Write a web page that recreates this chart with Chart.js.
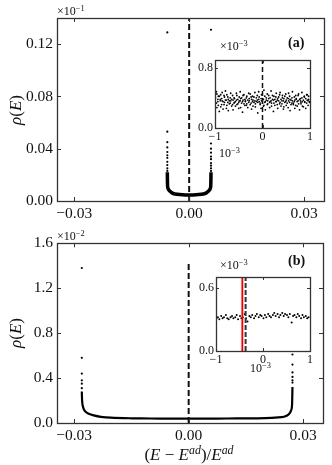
<!DOCTYPE html>
<html>
<head>
<meta charset="utf-8">
<script src="https://cdn.jsdelivr.net/npm/chart.js@4/dist/chart.umd.min.js"></script>
<style>
  html, body { margin: 0; padding: 0; background: #fff; }
  #fig { position: relative; width: 332px; height: 465px; overflow: hidden; font-family: "Liberation Serif", serif; color: #111; }
  canvas { position: absolute; }
  .txt { position: absolute; white-space: nowrap; line-height: 1; }
  .txt sup { font-size: 70%; vertical-align: 0.45em; line-height: 0; }
  .small { font-size: 12px; }
  .panel { font-size: 14px; font-weight: bold; }
  .ylab { font-size: 17px; transform: translate(-50%, -50%) rotate(-90deg); }
  .xlab { font-size: 17px; transform: translate(-50%, -50%); }
</style>
</head>
<body>
<div id="fig">
  <canvas id="topMain" width="332" height="230" style="left:0;top:0"></canvas>
  <canvas id="botMain" width="332" height="235" style="left:0;top:230px"></canvas>
  <canvas id="topInset" width="140" height="100" style="left:180px;top:50px"></canvas>
  <canvas id="botInset" width="140" height="100" style="left:180px;top:265px"></canvas>

  <div class="txt small" style="left:57px;top:5px">×10<sup>−1</sup></div>
  <div class="txt small" style="left:57px;top:230px">×10<sup>−2</sup></div>
  <div class="txt panel" style="left:288px;top:36px">(a)</div>
  <div class="txt panel" style="left:288px;top:254px">(b)</div>
  <div class="txt small" style="left:220px;top:40px">×10<sup>−3</sup></div>
  <div class="txt small" style="left:220px;top:259px">×10<sup>−3</sup></div>
  <div class="txt small" style="left:219px;top:147px">10<sup>−3</sup></div>
  <div class="txt small" style="left:250px;top:362px">10<sup>−3</sup></div>
  <div class="txt ylab" style="left:15px;top:110px"><i>ρ</i>(<i>E</i>)</div>
  <div class="txt ylab" style="left:15px;top:333px"><i>ρ</i>(<i>E</i>)</div>
  <div class="txt xlab" style="left:189px;top:454px">(<i>E</i> − <i>E</i><sup><i>ad</i></sup>)/<i>E</i><sup><i>ad</i></sup></div>
</div>

<script>
// --- DADOS: painel (a) ---
const mainXTicks = [-0.03, 0, 0.03];
const mainXTickLabels = ['−0.03', '0.00', '0.03'];

const topYTicks = [0, 0.04, 0.08, 0.12];
const topYTickLabels = ['0.00', '0.04', '0.08', '0.12'];

// curva densa em U
const topCurveX = [-0.0057, -0.00568, -0.00565, -0.0056, -0.0054, -0.0050, -0.0045, -0.0037, -0.0025, -0.0010, 0,
                   0.0010, 0.0025, 0.0037, 0.0045, 0.0050, 0.0054, 0.0056, 0.00565, 0.00568, 0.0057];
const topCurveY = [0.022, 0.017, 0.013, 0.0105, 0.0088, 0.0075, 0.0062, 0.0054, 0.0049, 0.0046, 0.0046,
                   0.0046, 0.0049, 0.0054, 0.0062, 0.0075, 0.0088, 0.0105, 0.013, 0.017, 0.022];
// pontos esparsos nas bordas
const topEdgeX = [-0.0057, -0.0057, -0.0057, -0.0057, -0.0057, -0.0057, -0.0057, -0.0057, -0.0057, -0.0057, -0.0057,
                  0.0057, 0.0057, 0.0057, 0.0057, 0.0057, 0.0057, 0.0057, 0.0057, 0.0057, 0.0057];
const topEdgeY = [0.129, 0.053, 0.045, 0.041, 0.0375, 0.035, 0.033, 0.030, 0.0275, 0.025, 0.023,
                  0.131, 0.044, 0.040, 0.037, 0.034, 0.032, 0.029, 0.027, 0.025, 0.023];

// inset (a)
const insetXTicks = [-1, 0, 1];
const insetXTickLabels = ['−1', '0', '1'];
const insetAYTicks = [0, 0.8];
const insetAYTickLabels = ['0.0', '0.8'];
const insetAX = [
  -0.99,-0.97,-0.96,-0.94,-0.93,-0.91,-0.89,-0.88,-0.86,-0.85,
  -0.83,-0.81,-0.80,-0.78,-0.76,-0.75,-0.73,-0.72,-0.70,-0.68,
  -0.67,-0.65,-0.63,-0.62,-0.60,-0.59,-0.57,-0.55,-0.54,-0.52,
  -0.50,-0.49,-0.47,-0.46,-0.44,-0.42,-0.41,-0.39,-0.37,-0.36,
  -0.34,-0.33,-0.31,-0.29,-0.28,-0.26,-0.24,-0.23,-0.21,-0.20,
  -0.18,-0.16,-0.15,-0.13,-0.11,-0.10,-0.08,-0.07,-0.05,-0.03,
  -0.02,0.00,0.02,0.03,0.05,0.06,0.08,0.10,0.11,0.13,
  0.15,0.16,0.18,0.19,0.21,0.23,0.24,0.26,0.28,0.29,
  0.31,0.32,0.34,0.36,0.37,0.39,0.41,0.42,0.44,0.45,
  0.47,0.49,0.50,0.52,0.54,0.55,0.57,0.58,0.60,0.62,
  0.63,0.65,0.67,0.68,0.70,0.71,0.73,0.75,0.76,0.78,
  0.80,0.81,0.83,0.84,0.86,0.88,0.89,0.91,0.93,0.94,
  0.96,0.97,0.99];
const insetAY1 = [
  0.40,0.33,0.45,0.38,0.30,0.42,0.36,0.28,0.39,0.47,
  0.35,0.31,0.41,0.37,0.26,0.44,0.34,0.38,0.32,0.40,
  0.36,0.29,0.43,0.37,0.33,0.39,0.35,0.46,0.31,0.38,
  0.34,0.41,0.36,0.27,0.40,0.35,0.43,0.32,0.38,0.36,
  0.30,0.42,0.37,0.34,0.39,0.45,0.33,0.38,0.35,0.29,
  0.41,0.36,0.32,0.40,0.37,0.34,0.48,0.35,0.31,0.39,
  0.36,0.33,0.38,0.30,0.42,0.35,0.37,0.45,0.32,0.39,
  0.34,0.40,0.36,0.29,0.43,0.37,0.33,0.38,0.41,0.35,
  0.31,0.39,0.36,0.44,0.34,0.38,0.32,0.40,0.36,0.28,
  0.42,0.35,0.37,0.33,0.39,0.46,0.34,0.38,0.31,0.40,
  0.36,0.33,0.41,0.37,0.30,0.39,0.35,0.43,0.32,0.38,
  0.36,0.34,0.40,0.29,0.37,0.42,0.35,0.39,0.33,0.44,
  0.36,0.38,0.34];
const insetAY2 = [
  0.33,0.48,0.27,0.35,0.42,0.22,0.38,0.44,0.31,0.36,
  0.25,0.43,0.34,0.49,0.37,0.30,0.41,0.23,0.36,0.33,
  0.46,0.38,0.31,0.24,0.40,0.34,0.29,0.37,0.43,0.32,
  0.26,0.36,0.48,0.39,0.33,0.21,0.37,0.44,0.30,0.35,
  0.40,0.32,0.27,0.46,0.36,0.31,0.41,0.25,0.42,0.37,
  0.34,0.47,0.28,0.35,0.43,0.20,0.38,0.41,0.33,0.26,
  0.44,0.39,0.29,0.50,0.34,0.24,0.40,0.31,0.36,0.43,
  0.27,0.35,0.49,0.33,0.38,0.22,0.42,0.30,0.35,0.46,
  0.37,0.26,0.41,0.32,0.47,0.29,0.36,0.43,0.25,0.39,
  0.34,0.45,0.30,0.40,0.27,0.36,0.42,0.23,0.37,0.33,
  0.48,0.31,0.35,0.26,0.43,0.38,0.29,0.36,0.45,0.24,
  0.39,0.32,0.47,0.35,0.28,0.41,0.34,0.26,0.44,0.37,
  0.30,0.42,0.35];

// --- DADOS: painel (b) ---
const botYTicks = [0, 0.4, 0.8, 1.2, 1.6];
const botYTickLabels = ['0.0', '0.4', '0.8', '1.2', '1.6'];
const botCurveX = [-0.0280, -0.02795, -0.0279, -0.0278, -0.0275, -0.0270, -0.0262, -0.0249, -0.0230, -0.0204, -0.015,
                   -0.010, -0.005, 0, 0.005, 0.010, 0.015, 0.020, 0.0235, 0.0250, 0.0258, 0.0263, 0.0267, 0.0270,
                   0.0271, 0.02715, 0.0272];
const botCurveY = [0.28, 0.22, 0.19, 0.16, 0.125, 0.100, 0.082, 0.068, 0.055, 0.047, 0.042,
                   0.040, 0.039, 0.039, 0.039, 0.040, 0.041, 0.044, 0.050, 0.056, 0.066, 0.080, 0.100, 0.130,
                   0.170, 0.240, 0.320];
const botEdgeX = [-0.0280, -0.0280, -0.0280, -0.0280, -0.0280, -0.0280,
                  0.0272, 0.0272, 0.0272, 0.0272, 0.0272, 0.0272];
const botEdgeY = [1.38, 0.58, 0.44, 0.38, 0.35, 0.31,
                  0.61, 0.52, 0.45, 0.41, 0.38, 0.36];

// inset (b)
const insetBYTicks = [0, 0.6];
const insetBYTickLabels = ['0.0', '0.6'];
const insetBX = [
  -0.99,-0.96,-0.93,-0.89,-0.86,-0.83,-0.79,-0.76,-0.73,-0.69,
  -0.66,-0.63,-0.59,-0.56,-0.53,-0.49,-0.46,-0.43,-0.39,-0.36,
  -0.33,-0.29,-0.26,-0.23,-0.19,-0.16,-0.13,-0.09,-0.06,-0.03,
  0.01,0.04,0.07,0.11,0.14,0.17,0.21,0.24,0.27,0.31,
  0.34,0.37,0.41,0.44,0.47,0.51,0.54,0.57,0.61,0.64,
  0.67,0.71,0.74,0.77,0.81,0.84,0.87,0.91,0.94,0.97];
const insetBY = [
  0.31,0.32,0.30,0.33,0.31,0.32,0.34,0.31,0.30,0.32,
  0.33,0.31,0.32,0.34,0.30,0.33,0.31,0.32,0.35,0.31,
  0.28,0.33,0.32,0.34,0.31,0.33,0.35,0.32,0.34,0.33,
  0.31,0.34,0.32,0.35,0.33,0.32,0.34,0.36,0.33,0.35,
  0.32,0.34,0.36,0.33,0.35,0.34,0.32,0.35,0.27,0.33,
  0.34,0.32,0.35,0.33,0.31,0.34,0.32,0.33,0.31,0.32];
const insetBMarker = -0.44;   // linha vermelha
const insetBCenter = -0.37;   // linha tracejada

// --- HELPERS ---
const pts = (xs, ys) => xs.map((x, i) => ({ x: x, y: ys[i] }));
const FONT = '"Liberation Serif", serif';

// moldura com ticks para dentro, nos quatro lados
const framePlugin = {
  id: 'frame',
  afterDraw(chart, args, opts) {
    const { ctx, chartArea: a, scales } = chart;
    const L = opts.len || 4;
    ctx.save();
    ctx.strokeStyle = '#333';
    ctx.lineWidth = 1;
    ctx.beginPath();
    scales.x.ticks.forEach(t => {
      const p = Math.round(scales.x.getPixelForValue(t.value)) + 0.5;
      ctx.moveTo(p, a.bottom); ctx.lineTo(p, a.bottom - L);
      ctx.moveTo(p, a.top); ctx.lineTo(p, a.top + L);
    });
    scales.y.ticks.forEach(t => {
      const p = Math.round(scales.y.getPixelForValue(t.value)) + 0.5;
      ctx.moveTo(a.left, p); ctx.lineTo(a.left + L, p);
      ctx.moveTo(a.right, p); ctx.lineTo(a.right - L, p);
    });
    ctx.stroke();
    ctx.lineWidth = 1.3;
    ctx.strokeRect(Math.round(a.left) + 0.5, Math.round(a.top) + 0.5,
      Math.round(a.right - a.left), Math.round(a.bottom - a.top));
    ctx.restore();
  }
};

function makeAxes(cfg) {
  return {
    x: {
      type: 'linear', min: cfg.xMin, max: cfg.xMax,
      afterBuildTicks: s => { s.ticks = cfg.xTicks.map(v => ({ value: v })); },
      afterFit: s => { s.height = cfg.xHeight; },
      grid: { display: false, drawTicks: false, tickLength: 0 },
      border: { display: false },
      ticks: {
        callback: (v, i) => cfg.xLabels[i], color: '#111', padding: cfg.xPad,
        maxRotation: 0, autoSkip: false, font: { family: FONT, size: cfg.fontSize }
      }
    },
    y: {
      type: 'linear', min: cfg.yMin, max: cfg.yMax,
      afterBuildTicks: s => { s.ticks = cfg.yTicks.map(v => ({ value: v })); },
      afterFit: s => { s.width = cfg.yWidth; },
      grid: { display: false, drawTicks: false, tickLength: 0 },
      border: { display: false },
      ticks: {
        callback: (v, i) => cfg.yLabels[i], color: '#111', padding: cfg.yPad,
        autoSkip: false, font: { family: FONT, size: cfg.fontSize }
      }
    }
  };
}

function baseOptions(cfg) {
  return {
    responsive: false, animation: false, devicePixelRatio: 1,
    layout: { padding: cfg.padding },
    plugins: { legend: { display: false }, tooltip: { enabled: false }, frame: { len: cfg.tickLen } },
    scales: makeAxes(cfg)
  };
}

const dots = (data, r) => ({ data: data, showLine: false, pointRadius: r, backgroundColor: '#000', borderWidth: 0 });
const curve = (data, w) => ({ data: data, showLine: true, pointRadius: 0, borderColor: '#000', borderWidth: w, tension: 0.3 });
const vline = (x, y0, y1, color, w, dash) => ({
  data: [{ x: x, y: y0 }, { x: x, y: y1 }], showLine: true, pointRadius: 0,
  borderColor: color, borderWidth: w, borderDash: dash
});

// --- PAINEL (a) ---
new Chart(document.getElementById('topMain'), {
  type: 'scatter',
  data: { datasets: [
    vline(0, 0, 0.14, '#111', 2, [6, 3]),
    curve(pts(topCurveX, topCurveY), 3.5),
    dots(pts(topEdgeX, topEdgeY), 1.1)
  ] },
  options: baseOptions({
    xMin: -0.0345, xMax: 0.0352, yMin: 0, yMax: 0.14,
    xTicks: mainXTicks, xLabels: mainXTickLabels, yTicks: topYTicks, yLabels: topYTickLabels,
    padding: { top: 18, right: 8, left: 0, bottom: 0 }, xHeight: 29, yWidth: 57,
    xPad: 4, yPad: 4, fontSize: 15.5, tickLen: 4
  }),
  plugins: [framePlugin]
});

new Chart(document.getElementById('topInset'), {
  type: 'scatter',
  data: { datasets: [
    vline(0, 0, 0.9, '#111', 1.5, [5, 3]),
    dots(pts(insetAX, insetAY1), 0.9),
    dots(pts(insetAX, insetAY2), 0.9)
  ] },
  options: baseOptions({
    xMin: -1, xMax: 1, yMin: 0, yMax: 0.9,
    xTicks: insetXTicks, xLabels: insetXTickLabels, yTicks: insetAYTicks, yLabels: insetAYTickLabels,
    padding: { top: 10, right: 10, left: 0, bottom: 0 }, xHeight: 22, yWidth: 35,
    xPad: 2, yPad: 2, fontSize: 12, tickLen: 3
  }),
  plugins: [framePlugin]
});

// --- PAINEL (b) ---
new Chart(document.getElementById('botMain'), {
  type: 'scatter',
  data: { datasets: [
    vline(0, 0, 1.43, '#111', 2, [6, 3]),
    curve(pts(botCurveX, botCurveY), 2.2),
    dots(pts(botEdgeX, botEdgeY), 1.1)
  ] },
  options: baseOptions({
    xMin: -0.0345, xMax: 0.0352, yMin: 0, yMax: 1.6,
    xTicks: mainXTicks, xLabels: mainXTickLabels, yTicks: botYTicks, yLabels: botYTickLabels,
    padding: { top: 13, right: 9, left: 0, bottom: 0 }, xHeight: 42, yWidth: 57,
    xPad: 4, yPad: 4, fontSize: 15.5, tickLen: 4
  }),
  plugins: [framePlugin]
});

new Chart(document.getElementById('botInset'), {
  type: 'scatter',
  data: { datasets: [
    vline(insetBMarker, 0, 0.7, 'rgba(255,0,0,0.25)', 3, []),
    vline(insetBMarker, 0, 0.7, '#e00000', 1.5, []),
    vline(insetBCenter, 0, 0.7, '#333', 2, [5, 2]),
    dots(pts(insetBX, insetBY), 1)
  ] },
  options: baseOptions({
    xMin: -1, xMax: 1, yMin: 0, yMax: 0.7,
    xTicks: insetXTicks, xLabels: insetXTickLabels, yTicks: insetBYTicks, yLabels: insetBYTickLabels,
    padding: { top: 12, right: 10, left: 0, bottom: 0 }, xHeight: 14, yWidth: 36,
    xPad: 2, yPad: 2, fontSize: 12, tickLen: 3
  }),
  plugins: [framePlugin]
});
</script>
</body>
</html>
